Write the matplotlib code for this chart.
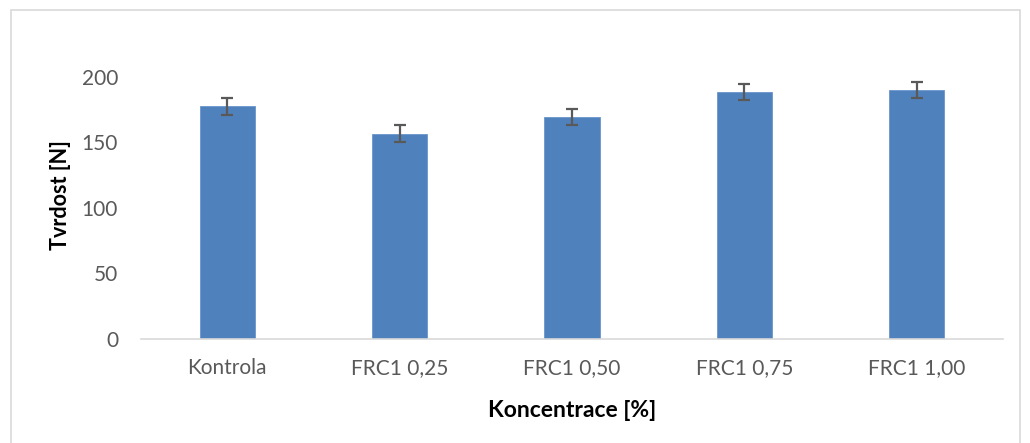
import matplotlib.pyplot as plt
from matplotlib.patches import Rectangle
import numpy as np

categories = ["Kontrola", "FRC1 0,25", "FRC1 0,50", "FRC1 0,75", "FRC1 1,00"]
hardness = [177.5, 156.5, 169.5, 188.5, 190.0]
errors = [6.3, 6.5, 6.3, 6.4, 6.4]

plt.rcParams['font.family'] = ['Lato', 'DejaVu Sans']

fig = plt.figure(figsize=(10.3, 4.43), dpi=100)
ax = fig.add_axes([0.1369, 0.2348, 0.8369, 0.5914])

x = np.arange(len(categories))
ax.bar(x, hardness, width=0.32, color='#4F81BD', edgecolor='#6A95CB', linewidth=0.6,
       yerr=errors, error_kw=dict(ecolor='#595959', elinewidth=1.6, capsize=4.5, capthick=1.6))

ax.set_xlim(-0.5, len(categories) - 0.5)
ax.set_ylim(0, 200)
ax.set_yticks([0, 50, 100, 150, 200])
ax.set_xticks(x)
ax.set_xticklabels(categories)
ax.tick_params(axis='both', length=0, labelsize=15, labelcolor='#595959')
ax.tick_params(axis='x', pad=13.5)
ax.tick_params(axis='y', pad=16.5)

for side in ['top', 'right', 'left']:
    ax.spines[side].set_visible(False)
ax.spines['bottom'].set_color('#D9D9D9')
ax.spines['bottom'].set_linewidth(1.2)

ax.set_xlabel("Koncentrace [%]", fontsize=16.5, fontweight='bold', labelpad=16)
ax.set_ylabel("Tvrdost [N]", fontsize=15.5, fontweight='bold')
ax.yaxis.set_label_coords(-0.0812, 0.55)

fig.patches.append(Rectangle((11 / 1030, -0.01), 1009 / 1030, 1 - 9.5 / 443 + 0.01,
                             transform=fig.transFigure, fill=False,
                             edgecolor='#D9D9D9', linewidth=1.2))

fig.savefig("out.png", dpi=100)
